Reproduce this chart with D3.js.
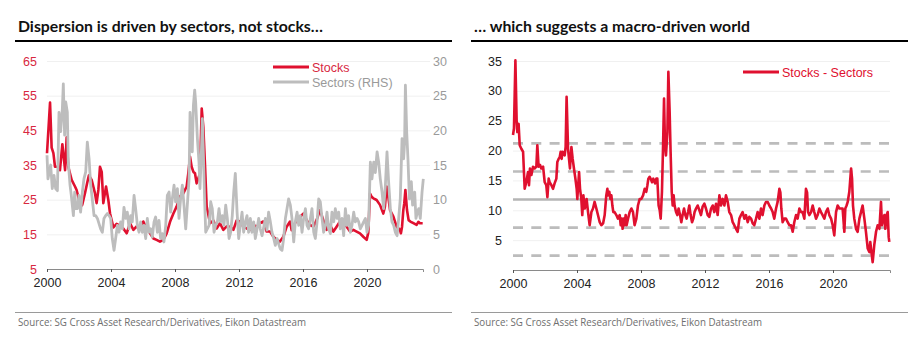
<!DOCTYPE html>
<html>
<head>
<meta charset="utf-8">
<script src="https://cdn.jsdelivr.net/npm/d3@7"></script>
<style>
  body { margin: 0; background: #fff; }
  svg { display: block; }
  .tick text { font-family: "Liberation Sans", Arial, sans-serif; }
</style>
</head>
<body>
<div class="Charts"></div>
<script>
// Page size
const WIDTH = 924;
const HEIGHT = 349;

const RED = "#e0102f";
const GREY = "#bdbdbd";

// Tick labels
const yearTicks = [2000, 2004, 2008, 2012, 2016, 2020];
const stockTicks = [5, 15, 25, 35, 45, 55, 65];
const sectorTicks = [0, 5, 10, 15, 20, 25, 30];
const spreadTicks = [5, 10, 15, 20, 25, 30, 35];

// Mean and +/- 1, 2 standard deviation levels of the spread
const meanLevel = 11.8;
const sdLevels = [2.4, 7.1, 16.5, 21.2];

// Stock dispersion, [year, value] (left axis)
const stocks = [
  [2000.00, 38.4], [2000.19, 53], [2000.29, 40], [2000.40, 38.4], [2000.50, 34.5],
  [2000.71, 34.5], [2000.81, 33.5], [2000.96, 41], [2001.13, 33.5], [2001.23, 43],
  [2001.33, 34.5], [2001.54, 30.7], [2001.75, 28.8], [2001.85, 27.8], [2002.00, 25],
  [2002.10, 23], [2002.20, 23.5], [2002.38, 27], [2002.52, 30], [2002.62, 32],
  [2002.79, 30.7], [2003.00, 26.8], [2003.10, 24], [2003.21, 27.8], [2003.31, 34.5],
  [2003.42, 33], [2003.52, 24], [2003.69, 28.8], [2003.83, 25], [2003.94, 21],
  [2004.15, 17], [2004.35, 18], [2004.56, 17.5], [2004.77, 16.7], [2004.98, 15.3],
  [2005.19, 18.2], [2005.40, 16.3], [2005.60, 17.3], [2005.81, 16.3], [2006.02, 18.7],
  [2006.23, 16.7], [2006.44, 15.3], [2006.65, 13.8], [2006.85, 13.4], [2007.06, 12.9],
  [2007.27, 13.4], [2007.48, 15.3], [2007.69, 18.6], [2007.90, 21], [2008.10, 23],
  [2008.31, 25.9], [2008.52, 26.8], [2008.73, 28.8], [2008.83, 32.6], [2008.94, 37.4],
  [2009.04, 34.5], [2009.15, 33], [2009.25, 32.6], [2009.35, 29.7], [2009.56, 32.6],
  [2009.67, 51.3], [2009.77, 46], [2009.88, 34.5], [2009.98, 23], [2010.19, 18.2],
  [2010.40, 19], [2010.60, 16.7], [2010.81, 18.2], [2011.02, 16.3], [2011.23, 17.3],
  [2011.44, 17.2], [2011.65, 16.3], [2011.85, 19], [2012.06, 18.7], [2012.27, 17.2],
  [2012.48, 16.7], [2012.69, 16.3], [2012.90, 17.7], [2013.10, 17.2], [2013.31, 18.2],
  [2013.52, 18.7], [2013.73, 15.8], [2013.94, 15.8], [2014.15, 14.3], [2014.35, 13.4],
  [2014.56, 12.9], [2014.77, 14.3], [2014.98, 17.2], [2015.19, 18.7], [2015.29, 16.2],
  [2015.40, 17.2], [2015.60, 19.1], [2015.81, 20], [2016.02, 21], [2016.23, 19.1],
  [2016.44, 17.7], [2016.65, 17.2], [2016.85, 19.1], [2017.06, 22], [2017.27, 19.1],
  [2017.48, 16.3], [2017.69, 17.7], [2017.90, 15.8], [2018.10, 17.2], [2018.31, 18.7],
  [2018.52, 18.2], [2018.73, 17.2], [2018.94, 15.8], [2019.15, 16.3], [2019.35, 15.8],
  [2019.56, 15.3], [2019.77, 14.3], [2019.98, 13.4], [2020.08, 15.5], [2020.19, 26.8],
  [2020.29, 25.8], [2020.40, 25.4], [2020.60, 24.9], [2020.81, 23.5], [2021.02, 21],
  [2021.12, 23], [2021.23, 28.8], [2021.33, 25.8], [2021.44, 22], [2021.65, 20.1],
  [2021.85, 17.2], [2022.06, 16.3], [2022.12, 15.3], [2022.19, 17.2], [2022.27, 22],
  [2022.33, 24], [2022.40, 27.8], [2022.50, 22], [2022.60, 19.1], [2022.71, 18.7],
  [2022.90, 18.2], [2023.10, 17.7], [2023.21, 18.6], [2023.31, 18.2], [2023.48, 18.2]
];

// Sector dispersion, [year, value] (right axis)
const sectors = [
  [2000.00, 16.4], [2000.06, 13], [2000.23, 15], [2000.33, 11.6], [2000.44, 13.5],
  [2000.54, 11.6], [2000.65, 11.3], [2000.75, 22.6], [2000.85, 19.8], [2000.96, 23.1],
  [2001.02, 26.7], [2001.10, 19.3], [2001.17, 24.1], [2001.27, 22.6], [2001.33, 15.4],
  [2001.44, 12.1], [2001.52, 10.6], [2001.65, 7.7], [2001.73, 11.1], [2001.81, 8.7],
  [2001.90, 8.7], [2002.00, 10.6], [2002.10, 8.2], [2002.21, 11.1], [2002.31, 13],
  [2002.42, 14], [2002.52, 18.3], [2002.63, 15.9], [2002.73, 12.1], [2002.83, 10.1],
  [2002.94, 7.7], [2003.04, 7.7], [2003.15, 7.3], [2003.35, 5.8], [2003.46, 5.3],
  [2003.56, 7.3], [2003.67, 7.7], [2003.77, 8], [2003.88, 7.7], [2003.98, 7.3],
  [2004.08, 4.4], [2004.19, 2.7], [2004.29, 4.4], [2004.40, 6.3], [2004.50, 5.3],
  [2004.60, 6.8], [2004.71, 5.8], [2004.81, 8.9], [2004.92, 7.3], [2005.02, 8.2],
  [2005.13, 5.8], [2005.23, 7.7], [2005.33, 6.8], [2005.44, 10.6], [2005.54, 8.7],
  [2005.65, 6.3], [2005.75, 5.3], [2005.85, 6.8], [2005.96, 5.3], [2006.06, 6.3],
  [2006.17, 4.4], [2006.27, 7.3], [2006.38, 5.3], [2006.48, 5.8], [2006.58, 4.6],
  [2006.69, 6.8], [2006.79, 7.5], [2006.90, 5.3], [2007.00, 7], [2007.10, 4.4],
  [2007.21, 5.1], [2007.31, 3.9], [2007.42, 6.3], [2007.52, 10.6], [2007.63, 11.1],
  [2007.73, 8.2], [2007.83, 10.1], [2007.94, 12.1], [2008.04, 9.7], [2008.15, 11.6],
  [2008.25, 7.3], [2008.35, 10.1], [2008.46, 12.1], [2008.56, 9.2], [2008.67, 5.8],
  [2008.77, 9.2], [2008.88, 13], [2008.94, 22.6], [2009.02, 18.8], [2009.08, 16.9],
  [2009.15, 23.6], [2009.23, 25.8], [2009.29, 24.1], [2009.40, 18.8], [2009.50, 15.4],
  [2009.56, 11.6], [2009.65, 16.9], [2009.71, 21.7], [2009.77, 16.9], [2009.85, 10.1],
  [2009.92, 5.3], [2010.02, 5.8], [2010.13, 6.3], [2010.23, 9.7], [2010.33, 8.7],
  [2010.44, 5.3], [2010.54, 6.3], [2010.65, 6.8], [2010.75, 8.7], [2010.85, 6.8],
  [2010.96, 7.7], [2011.06, 6.3], [2011.17, 9.2], [2011.27, 7.3], [2011.38, 4.4],
  [2011.48, 5.3], [2011.58, 7.7], [2011.67, 11.1], [2011.77, 13.8], [2011.88, 8.2],
  [2011.98, 4.4], [2012.08, 6.3], [2012.19, 8.2], [2012.29, 5.3], [2012.40, 6.8],
  [2012.50, 7.7], [2012.60, 5.3], [2012.71, 7.3], [2012.81, 5.3], [2012.92, 6.8],
  [2013.02, 4.4], [2013.13, 5.8], [2013.23, 7.3], [2013.33, 5.8], [2013.44, 4.8],
  [2013.54, 6.0], [2013.65, 7.3], [2013.75, 5.6], [2013.85, 8.2], [2013.96, 6.8],
  [2014.06, 5.3], [2014.17, 4.4], [2014.27, 3.4], [2014.38, 4.4], [2014.48, 3.6],
  [2014.58, 2.9], [2014.69, 2.7], [2014.79, 4.4], [2014.90, 7.3], [2015.00, 8.7],
  [2015.10, 10.1], [2015.21, 9.2], [2015.31, 7.3], [2015.42, 3.9], [2015.52, 6.8],
  [2015.63, 8.2], [2015.73, 6.3], [2015.83, 7.7], [2015.94, 5.3], [2016.04, 7.3],
  [2016.15, 8.7], [2016.25, 6.3], [2016.35, 5.8], [2016.46, 7.3], [2016.56, 8.7],
  [2016.67, 5.3], [2016.77, 4.4], [2016.88, 6.8], [2016.98, 10.1], [2017.08, 9.7],
  [2017.19, 7.3], [2017.29, 5.3], [2017.40, 6.3], [2017.50, 8.2], [2017.60, 5.8],
  [2017.71, 5.1], [2017.81, 8.2], [2017.92, 6.8], [2018.02, 8.7], [2018.13, 7.3],
  [2018.23, 8.2], [2018.33, 5.8], [2018.44, 7.3], [2018.54, 4.8], [2018.65, 8.7],
  [2018.75, 6.3], [2018.85, 7.7], [2018.96, 5.3], [2019.06, 6.3], [2019.17, 8.2],
  [2019.27, 6.8], [2019.38, 7.3], [2019.48, 6.8], [2019.58, 5.8], [2019.69, 6.3],
  [2019.79, 6.8], [2019.90, 7.3], [2020.00, 5.3], [2020.10, 6.3], [2020.21, 15.4],
  [2020.31, 13], [2020.42, 15.4], [2020.52, 13.9], [2020.63, 16.9], [2020.73, 15.4],
  [2020.83, 13], [2020.94, 11.1], [2021.04, 8.7], [2021.15, 12.1], [2021.25, 16.9],
  [2021.35, 12.6], [2021.46, 8.7], [2021.56, 6.8], [2021.67, 6.3], [2021.77, 5.3],
  [2021.88, 4.8], [2021.98, 7.3], [2022.08, 10.1], [2022.19, 18.8], [2022.29, 15.9],
  [2022.35, 18.3], [2022.40, 26.5], [2022.48, 19.8], [2022.56, 15.9], [2022.65, 10.1],
  [2022.77, 12.6], [2022.85, 9.2], [2022.98, 11.1], [2023.06, 7.3], [2023.15, 8.2],
  [2023.23, 8.7], [2023.33, 7.3], [2023.44, 11.1], [2023.52, 13]
];

// Stocks minus sectors, [year, value]
const spread = [
  [2000.00, 22.6], [2000.06, 23.7], [2000.15, 35.1], [2000.23, 24.8], [2000.27, 23.1],
  [2000.35, 24.5], [2000.42, 20.9], [2000.52, 20.3], [2000.63, 19.8], [2000.73, 13.6],
  [2000.83, 14.7], [2000.94, 16.4], [2001.00, 14.2], [2001.06, 17], [2001.15, 15.9],
  [2001.25, 17.3], [2001.35, 17], [2001.46, 17.3], [2001.52, 20.9], [2001.60, 17.3],
  [2001.69, 17.6], [2001.77, 17], [2001.88, 17.3], [2001.98, 14.7], [2002.08, 14.2],
  [2002.15, 12.2], [2002.23, 15.3], [2002.29, 14.7], [2002.40, 14.2], [2002.50, 13.6],
  [2002.60, 14.5], [2002.71, 15.3], [2002.77, 18.1], [2002.85, 18.6], [2002.92, 18.9],
  [2002.98, 19.8], [2003.04, 18.6], [2003.10, 19.8], [2003.23, 19.2], [2003.29, 20.6],
  [2003.35, 29], [2003.44, 20.3], [2003.50, 18.6], [2003.56, 17], [2003.65, 20.6],
  [2003.73, 18.6], [2003.81, 17], [2003.90, 15.3], [2003.98, 13.6], [2004.02, 11.9],
  [2004.06, 13.6], [2004.13, 16.4], [2004.19, 13.6], [2004.27, 11.9], [2004.33, 9.2],
  [2004.40, 12.5], [2004.48, 10.3], [2004.54, 10.8], [2004.60, 11.9], [2004.69, 9.7],
  [2004.79, 7.5], [2004.90, 9.7], [2005.00, 10.3], [2005.10, 11.4], [2005.21, 10.3],
  [2005.31, 9.2], [2005.42, 8], [2005.52, 7.5], [2005.63, 7.8], [2005.73, 9.2],
  [2005.83, 12.5], [2005.90, 13.6], [2005.94, 12.5], [2006.02, 13.1], [2006.08, 11.9],
  [2006.15, 12.5], [2006.21, 10.8], [2006.27, 9.7], [2006.35, 9.7], [2006.46, 9.2],
  [2006.56, 8.6], [2006.67, 9.2], [2006.73, 7.5], [2006.79, 8.6], [2006.85, 6.9],
  [2006.92, 8.6], [2006.98, 7.5], [2007.04, 9.2], [2007.10, 7.5], [2007.19, 8.6],
  [2007.29, 9.7], [2007.40, 10.3], [2007.50, 9.7], [2007.60, 7.5], [2007.71, 8.6],
  [2007.81, 10.8], [2007.92, 11.9], [2008.02, 11.9], [2008.13, 12.5], [2008.23, 13.6],
  [2008.33, 13.1], [2008.40, 14.2], [2008.46, 15.3], [2008.54, 15.6], [2008.60, 15.3],
  [2008.69, 14.7], [2008.77, 15.3], [2008.88, 14.5], [2008.96, 15.3], [2009.02, 15.3],
  [2009.10, 10.8], [2009.17, 10], [2009.23, 8.6], [2009.31, 13.1], [2009.38, 20.9],
  [2009.44, 28.7], [2009.50, 20.9], [2009.56, 19.2], [2009.65, 23.1], [2009.71, 33.2],
  [2009.79, 26.5], [2009.85, 19.8], [2009.92, 13.1], [2009.98, 10.8], [2010.04, 12.5],
  [2010.10, 10.8], [2010.19, 9.7], [2010.27, 9.2], [2010.35, 10.3], [2010.44, 9.2],
  [2010.52, 8], [2010.60, 9.2], [2010.69, 10.3], [2010.77, 9.2], [2010.85, 8.6],
  [2010.94, 9.7], [2011.02, 10.8], [2011.10, 9.2], [2011.19, 8], [2011.27, 8.6],
  [2011.35, 9.7], [2011.44, 10.3], [2011.54, 10.8], [2011.65, 10], [2011.75, 9.2],
  [2011.85, 10.6], [2011.96, 11.1], [2012.06, 10.3], [2012.17, 9.2], [2012.27, 8.9],
  [2012.38, 10.3], [2012.48, 10.8], [2012.58, 9.7], [2012.69, 11.1], [2012.79, 9.2],
  [2012.90, 12.5], [2013.00, 10.8], [2013.10, 11.9], [2013.21, 10.8], [2013.31, 12.5],
  [2013.42, 11.4], [2013.52, 9.7], [2013.63, 9.2], [2013.73, 8], [2013.83, 7.5],
  [2013.94, 6.9], [2014.04, 6.4], [2014.15, 8.6], [2014.25, 9.2], [2014.35, 9.7],
  [2014.46, 8.6], [2014.56, 9.2], [2014.67, 8], [2014.77, 8.9], [2014.88, 8.6],
  [2014.98, 7.8], [2015.08, 7.5], [2015.19, 8.6], [2015.29, 9.7], [2015.40, 8.6],
  [2015.50, 10.3], [2015.60, 9.2], [2015.71, 10.8], [2015.81, 11.4], [2015.92, 11.4],
  [2016.02, 10.8], [2016.13, 10.3], [2016.23, 9.7], [2016.33, 8.6], [2016.44, 10.3],
  [2016.54, 11.4], [2016.65, 13.6], [2016.71, 13], [2016.77, 10.3], [2016.85, 8],
  [2016.96, 8.6], [2017.06, 8.6], [2017.17, 8], [2017.27, 7.5], [2017.38, 7.5],
  [2017.48, 6.4], [2017.58, 8], [2017.69, 9.2], [2017.79, 8.6], [2017.90, 10.3],
  [2018.00, 9.7], [2018.10, 9.7], [2018.21, 8.6], [2018.31, 13.6], [2018.38, 13],
  [2018.44, 9.7], [2018.52, 9.2], [2018.63, 9.7], [2018.73, 10.8], [2018.83, 9.7],
  [2018.94, 8.6], [2019.04, 9.2], [2019.15, 10.3], [2019.25, 9.7], [2019.35, 9.2],
  [2019.46, 8.6], [2019.56, 9.7], [2019.67, 10.3], [2019.77, 9.2], [2019.88, 8.6],
  [2019.98, 7.5], [2020.08, 5.8], [2020.19, 9.7], [2020.29, 10.8], [2020.40, 10.3],
  [2020.50, 10.3], [2020.60, 10.3], [2020.71, 6.4], [2020.77, 10.3], [2020.85, 10.8],
  [2020.92, 11.4], [2021.02, 13.1], [2021.13, 17], [2021.19, 15.3], [2021.25, 10.8],
  [2021.33, 8.6], [2021.44, 6.9], [2021.54, 6.4], [2021.65, 8.6], [2021.75, 9.7],
  [2021.85, 10.8], [2021.96, 8.6], [2022.06, 6.4], [2022.17, 3.6], [2022.27, 3],
  [2022.33, 4.7], [2022.40, 3], [2022.48, 1.3], [2022.58, 4.2], [2022.69, 6.4],
  [2022.79, 7.5], [2022.90, 6.9], [2023.00, 11.4], [2023.06, 7.5], [2023.13, 8.6],
  [2023.21, 9.2], [2023.27, 6.9], [2023.35, 9.2], [2023.42, 9.7], [2023.48, 5.5],
  [2023.52, 4.7]
];

const svg = d3
  .select(".Charts")
  .append("svg")
  .attr("width", WIDTH)
  .attr("height", HEIGHT)
  .style("background", "#fff");

// Title, heavy rule under it, thin rule above the source line
function panelFrame(x0, x1, title, titleLen) {
  svg
    .append("text")
    .attr("x", x0 + 3)
    .attr("y", 32)
    .attr("font-family", "Lato, 'Open Sans', sans-serif")
    .attr("font-weight", 700)
    .attr("font-size", 15)
    .attr("fill", "#111")
    .attr("textLength", titleLen)
    .attr("lengthAdjust", "spacingAndGlyphs")
    .text(title);

  svg
    .append("line")
    .attr("x1", x0).attr("x2", x1)
    .attr("y1", 41).attr("y2", 41)
    .attr("stroke", "#000")
    .attr("stroke-width", 2.2);

  svg
    .append("line")
    .attr("x1", x0).attr("x2", x1)
    .attr("y1", 312.5).attr("y2", 312.5)
    .attr("stroke", "#9a9a9a")
    .attr("stroke-width", 1);

  svg
    .append("text")
    .attr("x", x0 + 3)
    .attr("y", 326)
    .attr("font-family", "'Open Sans', 'Noto Sans', sans-serif")
    .attr("font-size", 10.5)
    .attr("fill", "#6e6e6e")
    .attr("textLength", 288)
    .attr("lengthAdjust", "spacingAndGlyphs")
    .text("Source: SG Cross Asset Research/Derivatives, Eikon Datastream");
}

// Bottom year axis
function yearAxis(x, yPos) {
  svg
    .append("g")
    .attr("transform", `translate(0,${yPos})`)
    .call(d3.axisBottom(x).tickValues(yearTicks).tickFormat(d3.format("d")).tickSizeOuter(0).tickSize(3))
    .call((g) => g.select(".domain").attr("stroke", "#8a8a8a"))
    .call((g) => g.selectAll(".tick line").attr("stroke", "#555"))
    .call((g) =>
      g.selectAll(".tick text")
        .attr("y", 9)
        .attr("font-size", 12.5)
        .attr("fill", "#222")
    );
}

// Faint horizontal gridlines
function grid(y, ticks, x0, x1) {
  svg
    .append("g")
    .attr("transform", `translate(${x0},0)`)
    .call(d3.axisRight(y).tickValues(ticks).tickSize(x1 - x0).tickFormat(""))
    .call((g) => g.select(".domain").remove())
    .call((g) => g.selectAll(".tick line").attr("stroke", "#f0f0f0"));
}

function valueAxis(axis, xPos, color) {
  svg
    .append("g")
    .attr("transform", `translate(${xPos},0)`)
    .call(axis.tickSize(0).tickPadding(0))
    .call((g) => g.select(".domain").remove())
    .call((g) => g.selectAll(".tick text").attr("font-size", 12.5).attr("fill", color));
}

function legendEntry(x, y, color, label, textColor) {
  svg
    .append("line")
    .attr("x1", x).attr("x2", x + 36)
    .attr("y1", y).attr("y2", y)
    .attr("stroke", color)
    .attr("stroke-width", 3);
  svg
    .append("text")
    .attr("x", x + 39)
    .attr("y", y + 4.5)
    .attr("font-family", "'Liberation Sans', Arial, sans-serif")
    .attr("font-size", 12.5)
    .attr("fill", textColor)
    .text(label);
}

// ---------- Left panel: stocks vs sectors ----------
panelFrame(15, 452, "Dispersion is driven by sectors, not stocks\u2026", 305);

var xL = d3.scaleLinear().domain([2000, 2023.5]).range([47, 423]);
var yL = d3.scaleLinear().domain([5, 65]).range([269, 61]);
var yR = d3.scaleLinear().domain([0, 30]).range([269, 61]);

grid(yL, stockTicks.slice(1), 47, 430);

var stockLine = d3.line().x((d) => xL(d[0])).y((d) => yL(d[1]));
var sectorLine = d3.line().x((d) => xL(d[0])).y((d) => yR(d[1]));

svg
  .append("path")
  .datum(stocks)
  .attr("d", stockLine)
  .attr("fill", "none")
  .attr("stroke", RED)
  .attr("stroke-width", 2.6)
  .attr("stroke-linejoin", "round");

svg
  .append("path")
  .datum(sectors)
  .attr("d", sectorLine)
  .attr("fill", "none")
  .attr("stroke", GREY)
  .attr("stroke-width", 2.8)
  .attr("stroke-linejoin", "round");

yearAxis(xL, 269);
valueAxis(d3.axisLeft(yL).tickValues(stockTicks), 37, "#d8283f");
valueAxis(d3.axisRight(yR).tickValues(sectorTicks), 433, "#9a9a9a");

legendEntry(273, 67, RED, "Stocks", "#d8283f");
legendEntry(273, 82, GREY, "Sectors (RHS)", "#9a9a9a");

// ---------- Right panel: stocks minus sectors ----------
panelFrame(471, 908, "\u2026 which suggests a macro-driven world", 276);

var xS = d3.scaleLinear().domain([2000, 2023.5625]).range([513, 890]);
var yS = d3.scaleLinear().domain([0, 35]).range([270, 61]);

grid(yS, spreadTicks, 513, 890);

// Reference levels: mean (solid) and standard deviation bands (dashed)
svg
  .append("g")
  .selectAll("line")
  .data(sdLevels)
  .join("line")
  .attr("x1", 513).attr("x2", 890)
  .attr("y1", (d) => yS(d)).attr("y2", (d) => yS(d))
  .attr("stroke", "#bcbcbc")
  .attr("stroke-width", 2.6)
  .attr("stroke-dasharray", "10,8.3");

svg
  .append("line")
  .attr("x1", 513).attr("x2", 890)
  .attr("y1", yS(meanLevel)).attr("y2", yS(meanLevel))
  .attr("stroke", "#b5b5b5")
  .attr("stroke-width", 2.6);

svg
  .append("path")
  .datum(spread)
  .attr("d", d3.line().x((d) => xS(d[0])).y((d) => yS(d[1])))
  .attr("fill", "none")
  .attr("stroke", RED)
  .attr("stroke-width", 2.6)
  .attr("stroke-linejoin", "round");

yearAxis(xS, 270);
valueAxis(d3.axisLeft(yS).tickValues(spreadTicks), 502, "#222");

legendEntry(743, 72, RED, "Stocks - Sectors", RED);
</script>
</body>
</html>
